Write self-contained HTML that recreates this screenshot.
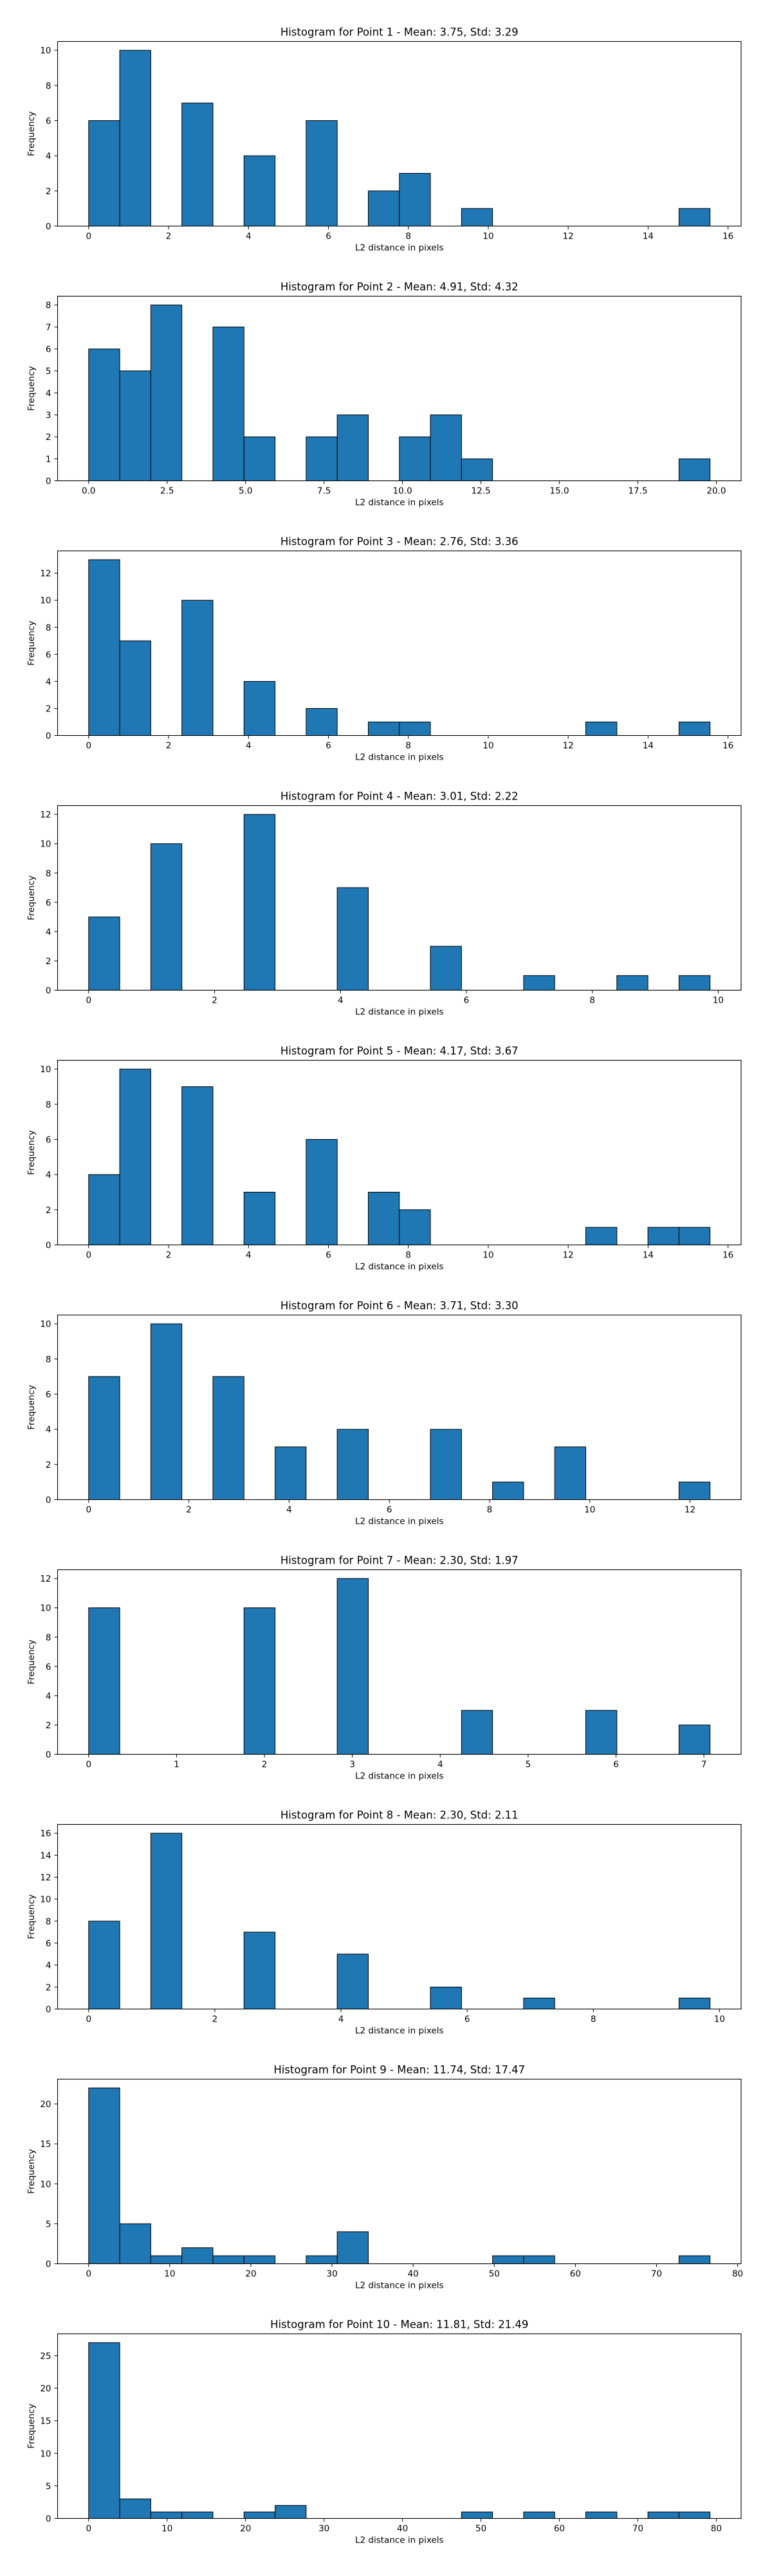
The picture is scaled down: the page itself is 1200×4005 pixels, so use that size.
<!DOCTYPE html>
<html><head><meta charset="utf-8"><style>
html,body{margin:0;padding:0;background:#fff;}
svg text{font-family:"DejaVu Sans","Liberation Sans",sans-serif;fill:#000;}
</style></head><body>
<svg id="fig" width="1200" height="4000" xmlns="http://www.w3.org/2000/svg"></svg>
<script>
// Data per panel
const titles = [
 "Histogram for Point 1 - Mean: 3.75, Std: 3.29",
 "Histogram for Point 2 - Mean: 4.91, Std: 4.32",
 "Histogram for Point 3 - Mean: 2.76, Std: 3.36",
 "Histogram for Point 4 - Mean: 3.01, Std: 2.22",
 "Histogram for Point 5 - Mean: 4.17, Std: 3.67",
 "Histogram for Point 6 - Mean: 3.71, Std: 3.30",
 "Histogram for Point 7 - Mean: 2.30, Std: 1.97",
 "Histogram for Point 8 - Mean: 2.30, Std: 2.11",
 "Histogram for Point 9 - Mean: 11.74, Std: 17.47",
 "Histogram for Point 10 - Mean: 11.81, Std: 21.49"
];
const dataMin = [0,0,0,0,0,0,0,0,0,0];
const dataMax = [15.55,19.8,15.55,9.87,15.55,12.4,7.07,9.85,76.6,79.2];
const counts = [
 [6,10,0,7,0,4,0,6,0,2,3,0,1,0,0,0,0,0,0,1],
 [6,5,8,0,7,2,0,2,3,0,2,3,1,0,0,0,0,0,0,1],
 [13,7,0,10,0,4,0,2,0,1,1,0,0,0,0,0,1,0,0,1],
 [5,0,10,0,0,12,0,0,7,0,0,3,0,0,1,0,0,1,0,1],
 [4,10,0,9,0,3,0,6,0,3,2,0,0,0,0,0,1,0,1,1],
 [7,0,10,0,7,0,3,0,4,0,0,4,0,1,0,3,0,0,0,1],
 [10,0,0,0,0,10,0,0,12,0,0,0,3,0,0,0,3,0,0,2],
 [8,0,16,0,0,7,0,0,5,0,0,2,0,0,1,0,0,0,0,1],
 [22,5,1,2,1,1,0,1,4,0,0,0,0,1,1,0,0,0,0,1],
 [27,3,1,1,0,1,2,0,0,0,0,0,1,0,1,0,1,0,1,1]
];
const xTicks = [
 [0,2,4,6,8,10,12,14,16],
 [0,2.5,5,7.5,10,12.5,15,17.5,20],
 [0,2,4,6,8,10,12,14,16],
 [0,2,4,6,8,10],
 [0,2,4,6,8,10,12,14,16],
 [0,2,4,6,8,10,12],
 [0,1,2,3,4,5,6,7],
 [0,2,4,6,8,10],
 [0,10,20,30,40,50,60,70,80],
 [0,10,20,30,40,50,60,70,80]
];
const xTickLabels = [
 ["0","2","4","6","8","10","12","14","16"],
 ["0.0","2.5","5.0","7.5","10.0","12.5","15.0","17.5","20.0"],
 ["0","2","4","6","8","10","12","14","16"],
 ["0","2","4","6","8","10"],
 ["0","2","4","6","8","10","12","14","16"],
 ["0","2","4","6","8","10","12"],
 ["0","1","2","3","4","5","6","7"],
 ["0","2","4","6","8","10"],
 ["0","10","20","30","40","50","60","70","80"],
 ["0","10","20","30","40","50","60","70","80"]
];
const yTicks = [
 [0,2,4,6,8,10],
 [0,1,2,3,4,5,6,7,8],
 [0,2,4,6,8,10,12],
 [0,2,4,6,8,10,12],
 [0,2,4,6,8,10],
 [0,2,4,6,8,10],
 [0,2,4,6,8,10,12],
 [0,2,4,6,8,10,12,14,16],
 [0,5,10,15,20],
 [0,5,10,15,20,25]
];

const NS = "http://www.w3.org/2000/svg";
const fig = document.getElementById('fig');
function mk(tag, attrs, parent){
  const e = document.createElementNS(NS, tag);
  for (const k in attrs) e.setAttribute(k, attrs[k]);
  parent.appendChild(e);
  return e;
}
const L = 89.5, R = 1152, H = 287, TOP0 = 64.5, PITCH = 396;
for (let p = 0; p < titles.length; p++) {
  const top = TOP0 + p*PITCH, bot = top + H;
  const g = mk('g', {}, fig);
  
  
  const lo = dataMin[p], hi = dataMax[p];
  const pad = (hi-lo)*0.05;
  const x = v => L + (v - (lo-pad)) / ((hi-lo)+2*pad) * (R-L);
  const ymax = Math.max(...counts[p]) * 1.05;
  const y = v => bot - v / ymax * H;
  const nb = counts[p].length, bw = (hi-lo)/nb;
  for (let i = 0; i < nb; i++) {
    const c = counts[p][i];
    const x0 = x(lo + i*bw), x1 = x(lo + (i+1)*bw);
    const r = mk('rect', {x:x0, y:y(c), width:x1-x0, height:bot-y(c), fill:'#1f77b4', stroke:'#000', 'stroke-width':1}, g);
    
    
  }
  const fr = mk('rect', {x:L, y:top, width:R-L, height:H, fill:'none', stroke:'#000', 'stroke-width':1.1}, g);
  
  
  xTicks[p].forEach((t, k) => {
    const xx = x(t);
    mk('line', {x1:xx, x2:xx, y1:bot, y2:bot+5, stroke:'#000', 'stroke-width':1}, g);
    const tx = mk('text', {x:xx, y:bot+20, 'font-size':13.5, 'text-anchor':'middle'}, g);
    tx.textContent = xTickLabels[p][k];
    
    
  });
  yTicks[p].forEach(t => {
    const yy = y(t);
    mk('line', {x1:L-5, x2:L, y1:yy, y2:yy, stroke:'#000', 'stroke-width':1}, g);
    const ty = mk('text', {x:L-10, y:yy+5, 'font-size':13.5, 'text-anchor':'end'}, g);
    ty.textContent = String(t);
    
    
  });
  const ti = mk('text', {x:(L+R)/2, y:top-9, 'font-size':16.5, 'text-anchor':'middle'}, g);
  ti.textContent = titles[p];
  
  
  const xl = mk('text', {x:(L+R)/2, y:bot+38, 'font-size':13.5, 'text-anchor':'middle'}, g);
  xl.textContent = 'L2 distance in pixels';
  
  
  const yc = (top+bot)/2;
  const yl = mk('text', {x:53, y:yc, 'font-size':13.5, 'text-anchor':'middle', transform:'rotate(-90 53 '+yc+')'}, g);
  yl.textContent = 'Frequency';
  
  
}
</script>
</body></html>
